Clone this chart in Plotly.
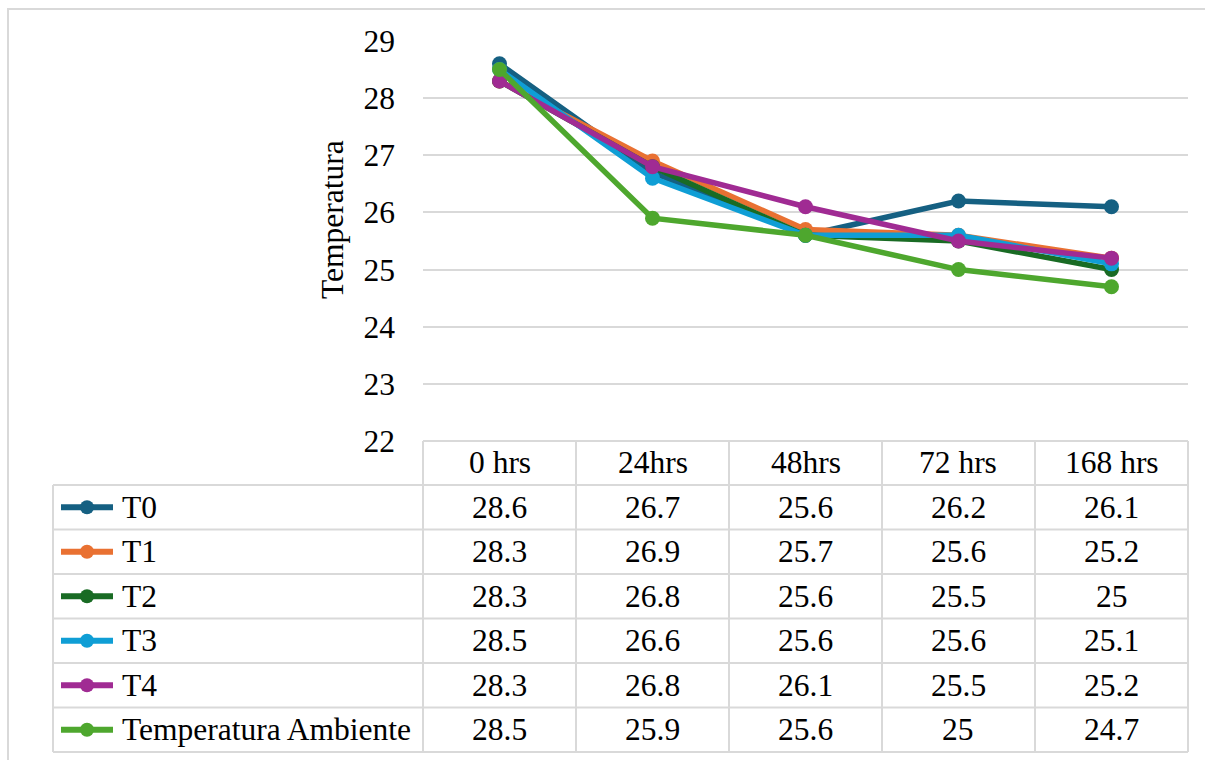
import plotly.graph_objects as go

# ---- data ----
categories = ["0 hrs", "24hrs", "48hrs", "72 hrs", "168 hrs"]
series_names = ["T0", "T1", "T2", "T3", "T4", "Temperatura Ambiente"]
t0 = [28.6, 26.7, 25.6, 26.2, 26.1]
t1 = [28.3, 26.9, 25.7, 25.6, 25.2]
t2 = [28.3, 26.8, 25.6, 25.5, 25.0]
t3 = [28.5, 26.6, 25.6, 25.6, 25.1]
t4 = [28.3, 26.8, 26.1, 25.5, 25.2]
ambiente = [28.5, 25.9, 25.6, 25.0, 24.7]
y_ticks = [22, 23, 24, 25, 26, 27, 28, 29]
axis_title = "Temperatura"

series_values = [t0, t1, t2, t3, t4, ambiente]
colors = ["#156082", "#E97132", "#196B24", "#0F9ED5", "#A02B93", "#4EA72E"]

# ---- geometry (pixels) ----
W, H = 1205, 760
FONT = "'Liberation Serif', Tinos, 'Times New Roman', 'DejaVu Serif', serif"
FS = 31.5
GRID = "#D9D9D9"

plot_left, plot_right = 423, 1188
plot_top, plot_bottom = 41, 441
header_bottom = 485
table_left = 53
table_bottom = 752


def px(x):
    return x / W


def py(y):
    return 1 - y / H


fig = go.Figure()

for name, vals, col in zip(series_names, series_values, colors):
    fig.add_trace(go.Scatter(
        x=categories, y=vals, name=name, mode="lines+markers",
        line=dict(color=col, width=5.5),
        marker=dict(size=15, color=col),
        showlegend=False, cliponaxis=False,
    ))

shapes = []
annotations = []

# outer chart frame
shapes.append(dict(type="rect", xref="paper", yref="paper",
                   x0=px(8), x1=px(1215), y0=py(9), y1=py(775),
                   line=dict(color=GRID, width=2)))

# data table grid
n_cols = len(categories)
n_rows = len(series_names)
col_w = (plot_right - plot_left) / n_cols
row_h = (table_bottom - header_bottom) / n_rows


def hline(y, x0, x1):
    shapes.append(dict(type="line", xref="paper", yref="paper",
                       x0=px(x0), x1=px(x1), y0=py(y), y1=py(y),
                       line=dict(color=GRID, width=2)))


def vline(x, y0, y1):
    shapes.append(dict(type="line", xref="paper", yref="paper",
                       x0=px(x), x1=px(x), y0=py(y0), y1=py(y1),
                       line=dict(color=GRID, width=2)))


hline(plot_bottom, plot_left, plot_right)
for r in range(n_rows + 1):
    hline(header_bottom + r * row_h, table_left, plot_right)
vline(table_left, header_bottom, table_bottom)
for c in range(n_cols + 1):
    vline(plot_left + c * col_w, plot_bottom, table_bottom)

# header labels
for c, cat in enumerate(categories):
    annotations.append(dict(
        xref="paper", yref="paper", showarrow=False,
        x=px(plot_left + (c + 0.5) * col_w),
        y=py((plot_bottom + header_bottom) / 2),
        text=cat, font=dict(family=FONT, size=FS, color="#000000"),
        xanchor="center", yanchor="middle"))

# table body: legend keys, names and values
for r, (name, vals, col) in enumerate(zip(series_names, series_values, colors)):
    yc = header_bottom + (r + 0.5) * row_h
    shapes.append(dict(type="line", xref="paper", yref="paper",
                       x0=px(61), x1=px(113), y0=py(yc), y1=py(yc),
                       line=dict(color=col, width=6)))
    shapes.append(dict(type="circle", xref="paper", yref="paper",
                       x0=px(87 - 7), x1=px(87 + 7),
                       y0=py(yc - 7), y1=py(yc + 7),
                       fillcolor=col, line=dict(color=col, width=0)))
    annotations.append(dict(
        xref="paper", yref="paper", showarrow=False,
        x=px(120), y=py(yc), text=name,
        font=dict(family=FONT, size=FS, color="#000000"),
        xanchor="left", yanchor="middle"))
    for c, v in enumerate(vals):
        annotations.append(dict(
            xref="paper", yref="paper", showarrow=False,
            x=px(plot_left + (c + 0.5) * col_w), y=py(yc),
            text=f"{v:g}", font=dict(family=FONT, size=FS, color="#000000"),
            xanchor="center", yanchor="middle"))

# y axis title
annotations.append(dict(
    xref="paper", yref="paper", showarrow=False,
    x=px(332), y=py(220), text=axis_title, textangle=-90,
    font=dict(family=FONT, size=FS, color="#000000"),
    xanchor="center", yanchor="middle"))

fig.update_layout(
    width=W, height=H,
    margin=dict(l=0, r=0, t=0, b=0, autoexpand=False),
    paper_bgcolor="white", plot_bgcolor="white",
    font=dict(family=FONT, size=FS, color="#000000"),
    xaxis=dict(domain=[px(plot_left), px(plot_right)], range=[-0.5, 4.5],
               type="category", showticklabels=False, showgrid=False,
               zeroline=False, showline=False, ticks="", automargin=False),
    yaxis=dict(domain=[py(plot_bottom), py(plot_top)], range=[22, 29],
               tickvals=y_ticks, showgrid=True, gridcolor=GRID, gridwidth=2,
               zeroline=False, showline=False, ticks="", automargin=False,
               ticklabelstandoff=27,
               tickfont=dict(family=FONT, size=FS, color="#000000")),
    shapes=shapes, annotations=annotations,
    showlegend=False,
)

fig.write_html("out.html")
